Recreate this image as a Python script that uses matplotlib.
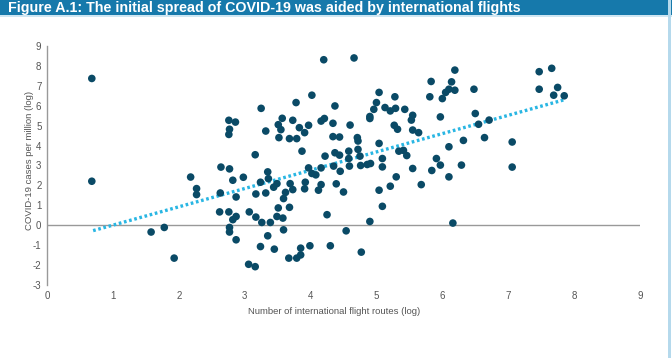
import matplotlib
matplotlib.use("Agg")
import matplotlib.pyplot as plt
from matplotlib.patches import Rectangle

plt.rcParams['font.family'] = ['Liberation Sans', 'DejaVu Sans']
plt.rcParams['axes.unicode_minus'] = False

# flight routes (log) vs COVID-19 cases per million (log)
routes_log = [
    0.68, 0.68, 1.58, 1.78, 1.93, 2.18, 2.27, 2.27, 2.63, 2.64,
    2.77, 2.62, 2.76, 2.77, 2.77, 2.87, 2.76, 2.86, 2.77, 2.76,
    2.82, 2.98, 2.87, 2.87, 2.82, 3.06, 3.16, 3.07, 3.16, 3.17,
    3.17, 3.24, 3.24, 3.25, 3.26, 3.32, 3.32, 3.35, 3.36, 3.35,
    3.39, 3.44, 3.45, 3.49, 3.49, 3.51, 3.51, 3.55, 3.52, 3.57,
    3.58, 3.59, 3.62, 3.59, 3.68, 3.79, 3.68, 3.69, 3.73, 3.73,
    3.78, 3.67, 3.79, 3.85, 3.85, 3.99, 3.83, 3.91, 3.97, 3.87,
    3.92, 3.91, 3.97, 4.02, 4.08, 4.02, 4.16, 4.21, 4.20, 4.16,
    4.16, 4.12, 4.22, 4.25, 4.30, 4.34, 4.37, 4.34, 4.44, 4.37,
    4.44, 4.35, 4.45, 4.39, 4.50, 4.54, 4.58, 4.58, 4.59, 4.60,
    4.66, 4.71, 4.72, 4.72, 4.75, 4.76, 4.77, 4.86, 4.91, 4.90,
    4.90, 4.96, 5.00, 4.90, 5.04, 5.04, 5.04, 5.09, 5.09, 5.09,
    5.13, 5.21, 5.21, 5.28, 5.29, 5.27, 5.32, 5.30, 5.34, 5.41,
    5.46, 5.43, 5.55, 5.53, 5.55, 5.64, 5.55, 5.68, 5.81, 5.83,
    5.84, 5.91, 5.97, 5.97, 6.00, 6.05, 6.10, 6.19, 6.14, 6.19,
    6.10, 6.10, 6.16, 6.29, 6.32, 6.48, 6.50, 6.55, 6.71, 6.64,
    7.06, 7.06, 7.47, 7.66, 7.47, 7.75, 7.69, 7.85,
]
cases_log = [
    7.37, 2.21, -0.34, -0.11, -1.65, 2.42, 1.84, 1.54, 1.62, 2.92,
    2.83, 0.67, 0.67, -0.11, -0.34, -0.73, 5.27, 5.18, 4.82, 4.56,
    2.26, 2.41, 1.42, 0.44, 0.28, -1.96, -2.08, 0.67, 3.54, 1.57,
    0.41, 2.16, -1.07, 5.87, 0.14, 4.73, 1.62, 2.68, 2.34, -0.53,
    0.14, 1.91, -1.20, 2.09, 0.44, 0.87, 5.05, 4.80, 4.40, 5.37,
    0.36, 1.34, 1.65, -0.23, 4.35, 4.35, 0.90, 2.09, 1.79, 5.27,
    6.16, -1.65, -1.65, -1.49, -1.15, -1.03, 4.90, 4.65, 5.02, 3.72,
    2.16, 1.83, 2.88, 2.60, 2.53, 6.53, 5.23, 5.36, 8.31, 2.88,
    2.04, 1.76, 3.47, 0.53, -1.03, 5.12, 5.99, 4.45, 4.43, 3.64,
    3.52, 2.97, 2.71, 2.08, 1.67, -0.28, 3.72, 3.35, 2.97, 5.03,
    8.40, 4.40, 4.23, 3.81, 3.47, 3.00, -1.35, 3.05, 3.10, 5.46,
    5.36, 5.82, 6.16, 0.19, 6.67, 4.11, 1.76, 3.35, 2.93, 0.95,
    5.91, 5.74, 1.96, 6.45, 5.87, 5.02, 4.82, 2.43, 3.72, 3.76,
    3.50, 5.82, 5.52, 5.28, 4.78, 4.65, 2.85, 2.04, 6.45, 7.22,
    2.75, 3.35, 3.02, 5.44, 6.36, 6.67, 6.83, 6.78, 7.20, 7.79,
    3.94, 2.43, 0.11, 3.02, 4.26, 6.83, 5.61, 5.07, 5.28, 4.40,
    4.18, 2.92, 7.71, 7.88, 6.83, 6.92, 6.53, 6.50,
]

# dotted trend line end points
trend_x = [0.70, 7.85]
trend_y = [-0.27, 6.30]

x_ticks = list(range(0, 10))
y_ticks = list(range(-3, 10))

POINT_COLOR = "#0a4a66"
TREND_COLOR = "#29b6e3"
BAR_COLOR = "#1679ab"
TEXT_COLOR = "#555555"

fig = plt.figure(figsize=(6.72, 3.58), dpi=100, facecolor="white")

# title bar across the top (text is cut at the top edge, as in the source)
fig.patches.append(Rectangle((0, 1 - 15 / 358), 1, 15 / 358, transform=fig.transFigure,
                             facecolor=BAR_COLOR, edgecolor="none", zorder=0))
fig.patches.append(Rectangle((0, 1 - 17 / 358), 1, 2 / 358, transform=fig.transFigure,
                             facecolor="#cfe6f2", edgecolor="none", zorder=0))
# light border on the right
fig.patches.append(Rectangle((668 / 672, 0), 3 / 672, 1, transform=fig.transFigure,
                             facecolor="#b5d9ec", edgecolor="none", zorder=0))
fig.text(8 / 672, 1 - 12 / 358, "Figure A.1: The initial spread of COVID-19 was aided by international flights",
         color="white", fontsize=10.3, fontweight="bold", ha="left", va="baseline")

ax = fig.add_axes([47 / 672, 1 - 285 / 358, (640 - 47) / 672, (285 - 46) / 358])
ax.scatter(routes_log, cases_log, s=30, color=POINT_COLOR, edgecolors="none", zorder=3)
ax.plot(trend_x, trend_y, color=TREND_COLOR, lw=2.4, ls=(0, (0.8, 0.8)), zorder=2)
ax.axhline(0, color="#999999", lw=1.0, zorder=1)

ax.set_xlim(0, 9)
ax.set_ylim(-3, 9)
ax.set_xticks(x_ticks)
ax.set_yticks(y_ticks)
ax.tick_params(length=0, labelsize=7, labelcolor=TEXT_COLOR, pad=4)

for side in ["top", "right", "bottom"]:
    ax.spines[side].set_visible(False)
ax.spines["left"].set_color("#999999")
ax.spines["left"].set_linewidth(1.0)

ax.set_xlabel("Number of international flight routes (log)", fontsize=6.8, color=TEXT_COLOR)
ax.xaxis.set_label_coords((334 - 47) / (640 - 47), -0.09)
ax.set_ylabel("COVID-19 cases per million (log)", fontsize=6.8, color=TEXT_COLOR)
ax.yaxis.set_label_coords(-0.022, (285 - 160) / (285 - 46))

plt.savefig("out.png", dpi=100, facecolor=fig.get_facecolor())
